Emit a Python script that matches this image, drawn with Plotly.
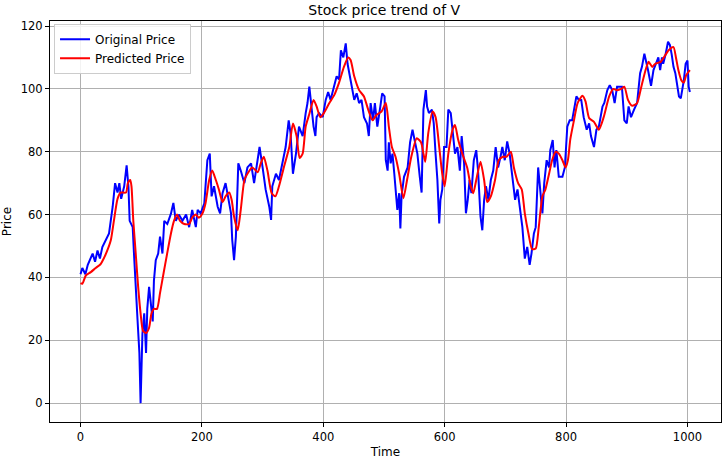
import plotly.graph_objects as go

# Original (blue) series: time index and price
orig_t = [0, 3, 8, 12, 20, 24, 28, 32, 36, 42, 47, 53, 57, 61, 64, 67, 72, 76, 79, 81,
          86, 88, 91, 94, 97, 99, 102, 105, 108, 110, 113, 116, 119, 121, 124, 128, 131, 135, 138, 143,
          149, 153, 157, 162, 168, 174, 179, 184, 188, 190, 193, 198, 204, 209, 213, 216, 220, 226, 230, 234,
          239, 244, 248, 250, 253, 256, 260, 264, 270, 275, 281, 286, 292, 295, 300, 305, 311, 314, 316, 322,
          327, 333, 338, 343, 346, 350, 355, 360, 366, 371, 374, 377, 381, 384, 387, 389, 393, 399, 404, 408,
          412, 418, 422, 426, 429, 433, 437, 440, 443, 446, 451, 455, 459, 463, 467, 472, 475, 478, 482, 485,
          489, 494, 497, 501, 503, 506, 508, 511, 514, 517, 519, 522, 525, 527, 529, 533, 539, 543, 547, 550,
          555, 559, 562, 565, 569, 571, 574, 579, 582, 585, 588, 591, 593, 596, 599, 603, 606, 610, 613, 617,
          621, 625, 628, 632, 635, 638, 641, 644, 648, 652, 655, 659, 662, 665, 668, 672, 676, 680, 684, 688,
          692, 695, 699, 703, 707, 711, 716, 720, 724, 728, 732, 736, 740, 743, 747, 750, 754, 758, 761, 764,
          768, 772, 774, 778, 781, 784, 788, 794, 798, 802, 806, 810, 814, 817, 821, 825, 829, 834, 838, 841,
          846, 850, 854, 860, 863, 868, 872, 876, 880, 884, 889, 892, 896, 900, 903, 907, 912, 917, 922, 925,
          929, 932, 935, 940, 944, 948, 952, 955, 958, 960, 964, 968, 971, 974, 977, 980, 983, 986, 989, 992,
          994, 997, 1000, 1002, 1004]
orig_p = [41, 43, 41, 44, 47.6, 45, 48.6, 46, 49.7, 52, 54, 62.5, 70, 67, 70, 65, 69, 75.7, 68.8, 58,
          56, 48, 35, 26.4, 16, 0, 22, 28.6, 16, 30, 37, 32, 26, 39, 45.5, 47.6, 53, 47.6, 58, 57,
          60.3, 63.7, 58, 60, 58, 60, 56, 61.5, 58.3, 56, 61.5, 60.4, 63.6, 77.3, 79.4, 65.8, 69, 62.5, 60.4, 66.8,
          70, 64.7, 60.4, 51.9, 45.5, 53, 76.3, 74, 70, 75, 76.3, 70, 77.3, 81.5, 75, 68, 62.5, 58.3, 69, 73,
          71, 76.3, 81.5, 90, 86, 73, 79.4, 88, 85, 92.3, 95.5, 100.7, 92.3, 88, 85, 91, 92.3, 91, 96.5, 99,
          96.5, 100.7, 104, 103, 112.3, 110, 114.5, 108, 105, 102, 96.5, 98.6, 95.5, 96.5, 91, 89, 85, 95.5, 90, 95.5,
          88, 94.4, 98.6, 97.6, 77.3, 74, 83, 76.3, 79.4, 73, 68, 61.5, 66.8, 55.6, 66, 72, 75, 83, 87, 84,
          79.4, 72, 67, 93.4, 99.6, 94.4, 92.3, 93.4, 89, 79.4, 71, 57.2, 64.7, 68, 81.5, 81.5, 93.4, 92.3, 86, 79.4,
          81.5, 74, 85, 76.3, 60.4, 64.7, 71, 66.8, 77.3, 80.5, 74, 59.4, 55, 64.7, 69, 64.7, 71, 74, 81.5, 75,
          78.4, 81.5, 77.3, 83.3, 79.4, 72, 64.7, 68, 61.5, 56, 46, 49.7, 44, 47.6, 54, 56, 75, 66.8, 60.4, 70,
          77.3, 75, 80.5, 83.7, 75, 80.5, 72, 72, 75, 88, 90, 90, 94.4, 97.6, 96.5, 96.5, 91, 87, 89, 85,
          81.5, 87, 88, 94.4, 95.5, 99.6, 101.2, 99.6, 95.5, 100.7, 100.7, 100.7, 90, 89, 94.4, 91, 93.4, 95.5, 105, 107,
          111.2, 108, 106, 101, 106, 108, 110, 106, 110, 108, 111, 115, 114, 111, 107, 105, 100.7, 97.6, 97, 100.7,
          102.7, 108, 109, 100.7, 99]

# Predicted (red) series
pred_t = [0, 3, 9, 17, 25, 33, 39, 44, 50, 55, 61, 66, 75, 78, 82, 84, 87, 91, 95, 99,
          103, 108, 113, 117, 121, 126, 131, 137, 142, 149, 154, 159, 164, 171, 179, 184, 190, 195, 201, 206,
          212, 217, 223, 228, 234, 239, 245, 249, 253, 259, 264, 270, 275, 283, 292, 297, 302, 308, 315, 321,
          327, 335, 344, 350, 356, 361, 366, 371, 377, 384, 389, 395, 401, 410, 418, 426, 434, 441, 445, 451,
          459, 467, 474, 481, 488, 496, 503, 508, 513, 519, 525, 532, 538, 545, 554, 561, 565, 568, 573, 580,
          585, 591, 596, 600, 606, 613, 617, 622, 629, 637, 643, 647, 652, 659, 665, 670, 676, 683, 689, 696,
          702, 709, 714, 721, 727, 732, 738, 744, 750, 755, 761, 766, 772, 777, 783, 788, 794, 799, 803, 807,
          813, 819, 827, 832, 838, 846, 854, 862, 871, 878, 884, 891, 896, 902, 909, 917, 924, 931, 936, 942,
          947, 956, 961, 969, 977, 981, 985, 990, 994, 998, 1004]
pred_p = [38.2, 38, 40.7, 41.7, 43, 44.2, 46.3, 48.5, 51.9, 58, 65, 67, 67, 70, 71, 69, 58, 47.6, 37, 28.6,
          23, 22.3, 24, 28.6, 30, 30, 35, 41.5, 46.8, 54, 58, 60, 58, 57, 57, 59, 60, 59, 60.4, 63.6,
          71, 74, 71, 68, 64, 65.8, 67, 64.7, 59.4, 55, 61.5, 71, 73, 75, 73.5, 76.3, 78.4, 74, 66.8, 65.8,
          69, 75, 81.5, 89, 85, 78, 79.4, 88, 92, 96.5, 94.4, 91, 92.3, 95.5, 98, 102, 107, 110, 109.2, 104,
          99.6, 97.6, 93.4, 90, 91.8, 92.8, 95.5, 88, 81.5, 78.4, 73, 65.2, 71, 78.4, 84.3, 83, 79.4, 76.8, 86, 92.8,
          91, 81.5, 73, 69, 79.4, 87, 88.5, 84, 79.4, 75, 69, 66.8, 71, 76.8, 71, 64, 65.8, 71, 77.3, 78.4,
          78.4, 80, 75, 70, 68, 60.4, 54, 49, 49.2, 56, 65.8, 68, 73, 77.3, 80, 79.4, 77.3, 75, 77.3, 84,
          90, 95.5, 97.8, 96, 90.7, 89.5, 87, 91, 97.6, 100, 99.6, 100, 100.7, 96.5, 94.6, 95.5, 100.7, 106, 108.6, 107,
          108, 108.6, 110, 112.3, 113.3, 110, 106, 102.7, 102, 104.4, 106]

x_ticks = [0, 200, 400, 600, 800, 1000]
y_ticks = [0, 20, 40, 60, 80, 100, 120]

FONT = "DejaVu Sans"

fig = go.Figure()
fig.add_trace(go.Scatter(x=orig_t, y=orig_p, mode="lines", name="Original Price",
                         line=dict(color="#0000ff", width=2)))
fig.add_trace(go.Scatter(x=pred_t, y=pred_p, mode="lines", name="Predicted Price",
                         line=dict(color="#ff0000", width=2, shape="spline", smoothing=0.6)))

axis_common = dict(showline=True, linecolor="black", linewidth=1, mirror=True,
                   ticks="outside", ticklen=4, tickcolor="black",
                   showgrid=True, gridcolor="#b0b0b0", gridwidth=0.8, zeroline=False,
                   tickfont=dict(family=FONT, size=11.5, color="black"))

fig.update_layout(
    width=725, height=459,
    margin=dict(l=50, r=4, t=21, b=37),
    paper_bgcolor="white", plot_bgcolor="white",
    title=dict(text="Stock price trend of V", x=0.53, xanchor="center", y=0.978, yanchor="middle",
               font=dict(family=FONT, size=14, color="black")),
    xaxis=dict(range=[-50.25, 1055.25], tickvals=x_ticks,
               title=dict(text="Time", standoff=4, font=dict(family=FONT, size=12, color="black")),
               **axis_common),
    yaxis=dict(range=[-6.0, 121.6], tickvals=y_ticks,
               title=dict(text="Price", standoff=6, font=dict(family=FONT, size=12, color="black")),
               **axis_common),
    legend=dict(x=0.006, y=0.993, xanchor="left", yanchor="top",
                bgcolor="rgba(255,255,255,0.85)", bordercolor="#cccccc", borderwidth=1,
                font=dict(family=FONT, size=12, color="black")),
    showlegend=True,
)

fig.write_html("out.html", config={"displayModeBar": False},
               post_script="document.body.style.margin='0px';")
